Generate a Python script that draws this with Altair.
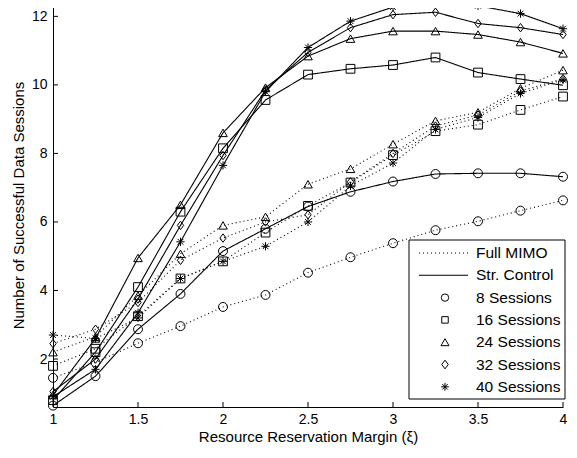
import altair as alt
import pandas as pd

# ---------------- data ----------------
x_vals = [1, 1.25, 1.5, 1.75, 2, 2.25, 2.5, 2.75, 3, 3.25, 3.5, 3.75, 4]
sessions = ["8 Sessions", "16 Sessions", "24 Sessions", "32 Sessions", "40 Sessions"]
types = ["Full MIMO", "Str. Control"]

# Str. Control (solid)
sc_8 = [0.64, 1.5, 2.87, 3.9, 5.15, 5.8, 6.45, 6.88, 7.18, 7.4, 7.42, 7.42, 7.32]
sc_16 = [0.8, 2.2, 4.1, 6.3, 8.15, 9.56, 10.3, 10.47, 10.58, 10.8, 10.36, 10.17, 9.99]
sc_24 = [0.95, 2.6, 4.95, 6.5, 8.6, 9.92, 10.84, 11.35, 11.57, 11.57, 11.47, 11.25, 10.92]
sc_32 = [1.05, 2.0, 3.75, 5.9, 7.94, 9.85, 10.95, 11.67, 12.05, 12.12, 11.79, 11.67, 11.47]
sc_40 = [0.9, 1.7, 3.35, 5.42, 7.65, 9.8, 11.09, 11.86, 12.27, 12.38, 12.31, 12.08, 11.64]

# Full MIMO (dotted)
fm_8 = [1.45, 1.9, 2.46, 2.96, 3.52, 3.87, 4.52, 4.97, 5.38, 5.76, 6.02, 6.33, 6.63]
fm_16 = [1.8, 2.3, 3.25, 4.35, 4.85, 5.69, 6.47, 7.15, 7.95, 8.65, 8.84, 9.27, 9.66]
fm_24 = [2.2, 2.65, 3.85, 5.07, 5.9, 6.15, 7.1, 7.55, 8.27, 8.95, 9.2, 9.9, 10.43]
fm_32 = [2.45, 2.87, 3.65, 4.88, 5.53, 6.0, 6.21, 7.17, 8.0, 8.8, 9.12, 9.82, 10.18]
fm_40 = [2.7, 2.6, 3.2, 4.35, 4.85, 5.29, 6.0, 7.05, 7.72, 8.7, 9.05, 9.75, 10.15]

x_ticks = [1, 1.5, 2, 2.5, 3, 3.5, 4]
y_ticks = [2, 4, 6, 8, 10, 12]
legend_labels = ["Full MIMO", "Str. Control"] + sessions

sc_series = [sc_8, sc_16, sc_24, sc_32, sc_40]
fm_series = [fm_8, fm_16, fm_24, fm_32, fm_40]

rows = []
for s, scv, fmv in zip(sessions, sc_series, fm_series):
    for xv, v in zip(x_vals, scv):
        rows.append({"x": xv, "value": v, "sessions": s, "type": "Str. Control", "series": s + " SC"})
    for xv, v in zip(x_vals, fmv):
        rows.append({"x": xv, "value": v, "sessions": s, "type": "Full MIMO", "series": s + " FM"})
df = pd.DataFrame(rows)

# ---------------- styling ----------------
W, H = 510, 404
FONT = "Liberation Sans"
diamond = "M0,-1L0.75,0L0,1L-0.75,0Z"
star = "M0,-1L0,1M-1,0L1,0M-0.7,-0.7L0.7,0.7M-0.7,0.7L0.7,-0.7"
shape_range = ["circle", "square", "triangle-up", diamond, star]
size_range = [80, 68, 105, 110, 95]
legend_sizes = [55, 42, 65, 75, 60]

xs = alt.Scale(domain=[1, 4], nice=False, zero=False)
ys = alt.Scale(domain=[0.6, 12.39], nice=False, zero=False)

x_axis = alt.Axis(values=x_ticks, format="~g", title="Resource Reservation Margin (ξ)",
                  grid=False, ticks=False, tickSize=0, labelPadding=5,
                  titlePadding=3, labelFlush=False)
y_axis = alt.Axis(values=y_ticks, format="~g", title="Number of Successful Data Sessions",
                  grid=False, ticks=False, tickSize=0, labelPadding=6,
                  titlePadding=5, labelFlush=False)

base = alt.Chart(df)

lines = base.mark_line(color="black", strokeWidth=1.1).encode(
    x=alt.X("x:Q", scale=xs, axis=x_axis),
    y=alt.Y("value:Q", scale=ys, axis=y_axis),
    strokeDash=alt.StrokeDash("type:N", scale=alt.Scale(domain=types, range=[[1, 3], [1, 0]]), legend=None),
    detail="series:N",
)

points = base.mark_point(color="black", filled=False, strokeWidth=1, opacity=1).encode(
    x=alt.X("x:Q", scale=xs),
    y=alt.Y("value:Q", scale=ys),
    shape=alt.Shape("sessions:N", scale=alt.Scale(domain=sessions, range=shape_range), legend=None),
    size=alt.Size("sessions:O", sort=sessions, scale=alt.Scale(domain=sessions, range=size_range), legend=None),
)

xt = alt.Chart(pd.DataFrame({"x": x_ticks})).mark_rule(color="black", strokeWidth=1).encode(
    x=alt.X("x:Q", scale=xs), y=alt.value(H), y2=alt.value(H - 5)
)
yt = alt.Chart(pd.DataFrame({"value": y_ticks})).mark_rule(color="black", strokeWidth=1).encode(
    y=alt.Y("value:Q", scale=ys), x=alt.value(0), x2=alt.value(5)
)

# ---------------- legend ----------------
lx0, lx1, ly0, ly1 = 356, 512, 237, 396
box = alt.Chart(pd.DataFrame({"a": [0]})).mark_rect(fill="white", stroke="black", strokeWidth=1).encode(
    x=alt.value(lx0), x2=alt.value(lx1), y=alt.value(ly0), y2=alt.value(ly1)
)
legend_layers = [box]
for i, lab in enumerate(legend_labels):
    yv = 250 + 22.3 * i
    ldf = pd.DataFrame({"label": [lab]})
    legend_layers.append(
        alt.Chart(ldf).mark_text(align="left", baseline="middle", font=FONT, fontSize=15.5, color="black").encode(
            x=alt.value(423), y=alt.value(yv), text="label:N"
        )
    )
    if i < 2:
        legend_layers.append(
            alt.Chart(ldf).mark_rule(color="black", strokeWidth=1.1,
                                     strokeDash=[1, 3] if i == 0 else [1, 0]).encode(
                x=alt.value(366), x2=alt.value(415), y=alt.value(yv)
            )
        )
    else:
        k = i - 2
        legend_layers.append(
            alt.Chart(ldf).mark_point(color="black", filled=False, strokeWidth=1, opacity=1,
                                      shape=shape_range[k], size=legend_sizes[k]).encode(
                x=alt.value(392), y=alt.value(yv)
            )
        )

chart = alt.layer(lines, points, xt, yt, *legend_layers).properties(
    width=W, height=H,
    autosize=alt.AutoSizeParams(type="none"),
    padding={"left": 45, "top": -5, "right": 6, "bottom": 43},
).configure_view(stroke=None).configure_axis(
    domainColor="black", domainWidth=1, labelColor="black", titleColor="black",
    labelFont=FONT, titleFont=FONT, labelFontSize=14, titleFontSize=15,
    titleFontWeight="normal",
)

chart.save("out.html", embed_options={"renderer": "svg", "actions": False})
